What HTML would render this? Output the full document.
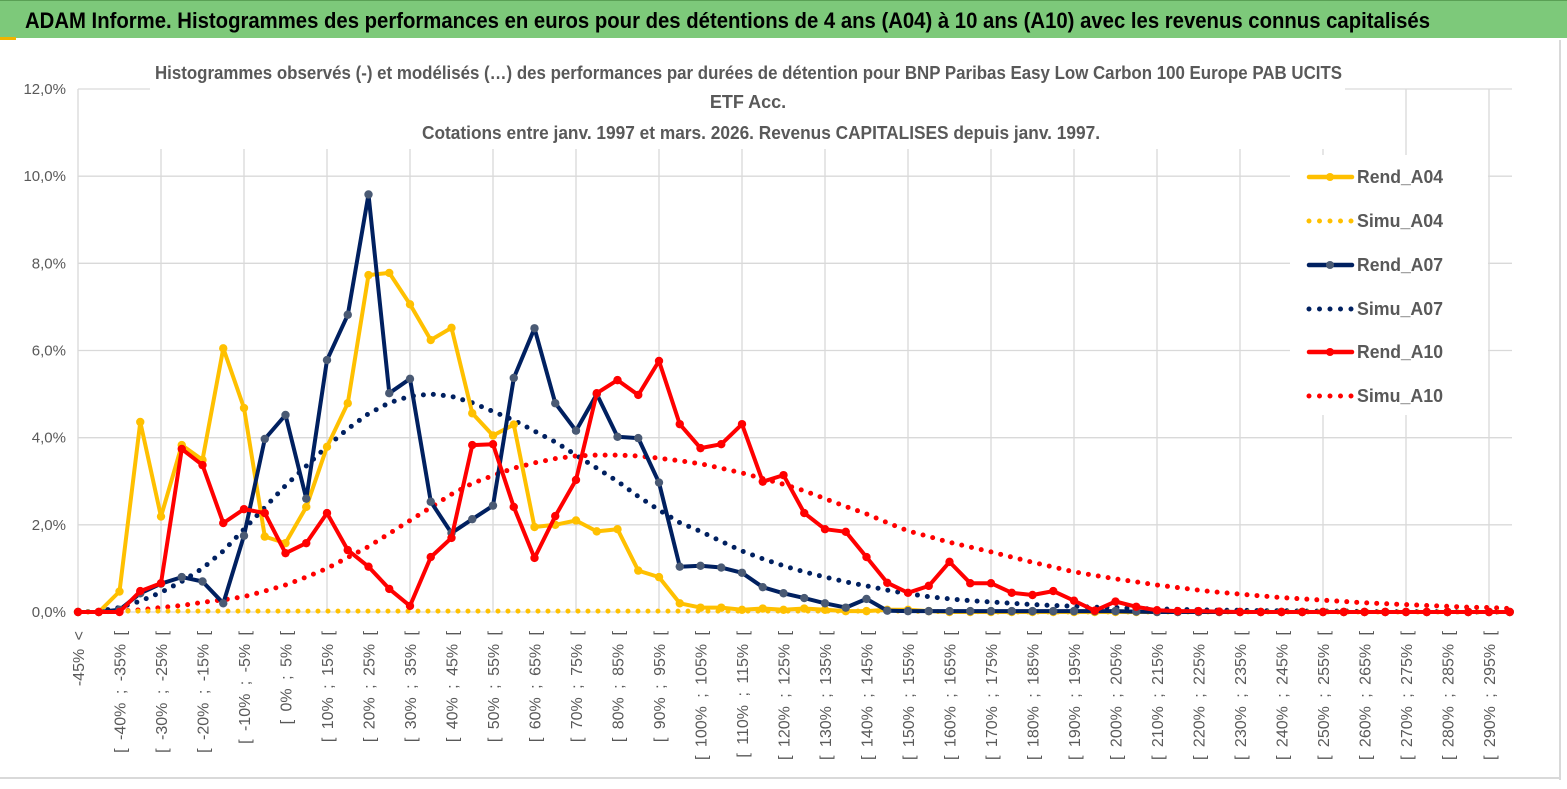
<!DOCTYPE html>
<html><head><meta charset="utf-8"><style>
html,body{margin:0;padding:0;background:#fff;}
svg{display:block;font-family:"Liberation Sans",sans-serif;}
</style></head><body>
<svg id="chart" width="1567" height="789" viewBox="0 0 1567 789" xmlns="http://www.w3.org/2000/svg">
<rect x="0" y="0" width="1567" height="789" fill="#fff"/>
<rect x="0" y="0" width="1567" height="38" fill="#7dc97a"/>
<rect x="0" y="0" width="1567" height="1" fill="#5aa055"/>
<rect x="0" y="37" width="16" height="3" fill="#f0b400"/>
<text x="25" y="28" font-size="22" font-weight="bold" fill="#000" textLength="1405" lengthAdjust="spacingAndGlyphs">ADAM Informe. Histogrammes des performances en euros pour des détentions de 4 ans (A04) à 10 ans (A10) avec les revenus connus capitalisés</text>
<rect x="1559" y="40" width="2" height="740" fill="#d9d9d9"/>
<rect x="0" y="777" width="1561" height="2" fill="#d9d9d9"/>
<g id="grid"></g>
<g id="yaxis"></g>
<g id="xaxis"></g>
<rect x="150" y="55" width="1195" height="94" fill="#fff"/>
<g font-weight="bold" fill="#595959" font-size="18">
<text x="155" y="79" textLength="1187" lengthAdjust="spacingAndGlyphs">Histogrammes observés (-) et modélisés (…) des performances par durées de détention pour BNP Paribas Easy Low Carbon 100 Europe PAB UCITS</text>
<text x="748" y="108" text-anchor="middle">ETF Acc.</text>
<text x="422" y="139" textLength="678" lengthAdjust="spacingAndGlyphs">Cotations entre janv. 1997 et mars. 2026. Revenus CAPITALISES depuis janv. 1997.</text>
</g>
<g id="series"></g>
<rect x="1290" y="155" width="198" height="260" fill="#fff"/>
<g id="legend"></g>
</svg>
<script>
const rendA04 = [0,0,0.47,4.36,2.19,3.83,3.49,6.05,4.68,1.73,1.58,2.41,3.79,4.79,7.73,7.78,7.06,6.24,6.52,4.56,4.05,4.3,1.95,2.0,2.1,1.85,1.9,0.95,0.8,0.2,0.1,0.1,0.05,0.08,0.05,0.08,0.05,0.02,0.02,0.05,0.05,0.02,0,0,0,0,0,0,0,0,0,0,0,0,0,0,0,0,0,0,0,0,0,0,0,0,0,0,0,0];
const simuA04 = [0,0,0.02,0.02,0.02,0.02,0.02,0.02,0.02,0.02,0.02,0.02,0.02,0.02,0.02,0.02,0.02,0.02,0.02,0.02,0.02,0.02,0.02,0.02,0.02,0.02,0.02,0.02,0.02,0.02,0.02,0.02,0.02,0.02,0.02,0.02,0.02,0.02,0.02,0.02,0.02,0.01,0.01,0.01,0,0,0,0,0,0,0,0,0,0,0,0,0,0,0,0,0,0,0,0,0,0,0,0,0,0];
const rendA07 = [0,0,0.05,0.43,0.65,0.8,0.7,0.2,1.75,3.97,4.52,2.6,5.78,6.82,9.58,5.02,5.35,2.53,1.81,2.13,2.44,5.37,6.51,4.79,4.16,5.0,4.02,3.99,2.97,1.04,1.06,1.02,0.9,0.57,0.43,0.32,0.2,0.1,0.3,0.03,0.02,0.02,0.02,0.02,0.02,0.02,0.02,0.02,0.02,0.02,0.02,0.01,0,0,0,0,0,0,0,0,0,0,0,0,0,0,0,0,0,0];
const simuA07 = [0,0.02,0.1,0.25,0.45,0.7,1.0,1.4,1.9,2.4,2.9,3.35,3.8,4.2,4.55,4.8,4.95,5.0,4.95,4.8,4.6,4.4,4.15,3.9,3.6,3.3,3.0,2.65,2.34,2.05,1.85,1.62,1.4,1.22,1.06,0.92,0.8,0.69,0.6,0.5,0.42,0.35,0.3,0.26,0.23,0.2,0.17,0.15,0.13,0.11,0.1,0.08,0.07,0.06,0.05,0.04,0.04,0.03,0.03,0.02,0.02,0.02,0.01,0.01,0.01,0.01,0.01,0,0,0];
const rendA10 = [0,0,0,0.48,0.66,3.74,3.37,2.04,2.36,2.27,1.35,1.58,2.27,1.42,1.04,0.53,0.14,1.26,1.7,3.83,3.85,2.41,1.24,2.2,3.03,5.02,5.32,4.98,5.76,4.31,3.76,3.85,4.31,2.99,3.14,2.27,1.9,1.84,1.26,0.67,0.44,0.6,1.15,0.66,0.66,0.44,0.39,0.48,0.26,0.03,0.24,0.12,0.04,0.02,0.02,0.01,0,0,0,0,0,0,0,0,0,0,0,0,0,0];
const simuA10 = [0,0,0.02,0.05,0.1,0.15,0.22,0.28,0.35,0.48,0.62,0.8,1.0,1.25,1.5,1.8,2.1,2.4,2.7,2.95,3.13,3.3,3.42,3.52,3.58,3.6,3.6,3.58,3.53,3.47,3.4,3.3,3.19,3.06,2.93,2.78,2.6,2.42,2.25,2.05,1.86,1.73,1.6,1.49,1.38,1.26,1.14,1.03,0.92,0.84,0.76,0.69,0.62,0.56,0.5,0.45,0.41,0.37,0.33,0.3,0.27,0.24,0.21,0.19,0.17,0.15,0.13,0.11,0.1,0.08];
const yTicks = [0,2,4,6,8,10,12];
const categories = ["-45% <"];
for (let k = 1; k < 70; k++) { const lo = -50 + 5 * k; categories.push("[ " + lo + "% ; " + (lo + 5) + "% ["); }

const NS = "http://www.w3.org/2000/svg";
const X0 = 78, DX = 20.75, Y0 = 612, YTOP = 89;
const xs = i => X0 + i * DX;
const ys = v => Y0 - (v / 12) * (Y0 - YTOP);
function mk(tag, attrs, parent) { const e = document.createElementNS(NS, tag); for (const k in attrs) e.setAttribute(k, attrs[k]); parent.appendChild(e); return e; }

const grid = document.getElementById('grid');
yTicks.forEach(t => {
  const l = mk('line', {x1: X0, x2: 1512, y1: ys(t), y2: ys(t), stroke: '#d9d9d9', 'stroke-width': 1.3}, grid);
  
  
});
for (let i = 0; i < categories.length; i += 4) {
  const l = mk('line', {x1: xs(i), x2: xs(i), y1: YTOP, y2: Y0, stroke: '#d9d9d9', 'stroke-width': 1.3}, grid);
  
  
}
const yaxis = document.getElementById('yaxis');
yTicks.forEach(t => {
  const tx = mk('text', {x: 66, y: ys(t) + 5, 'text-anchor': 'end', 'font-size': 15, fill: '#595959'}, yaxis);
  tx.textContent = t.toFixed(1).replace('.', ',') + '%';
  
  
});
const xaxis = document.getElementById('xaxis');
for (let i = 0; i < categories.length; i += 2) {
  const x = xs(i) + 6, y = 631;
  const tx = mk('text', {x: x, y: y, 'text-anchor': 'end', 'font-size': 16, 'word-spacing': 4, fill: '#595959', transform: 'rotate(-90 ' + x + ' ' + y + ')'}, xaxis);
  tx.textContent = categories[i];
  
  
}

const series = document.getElementById('series');
function pts(arr) { return arr.map((v, i) => xs(i).toFixed(1) + ',' + ys(v).toFixed(1)).join(' '); }
function dotted(arr, color, name) {
  const p = mk('polyline', {points: pts(arr), fill: 'none', stroke: color, 'stroke-width': 5, 'stroke-linecap': 'round', 'stroke-dasharray': '0 10'}, series);
  
  
}
function solid(arr, color, mcolor, name) {
  const g = mk('g', {}, series);
  
  
  mk('polyline', {points: pts(arr), fill: 'none', stroke: color, 'stroke-width': 4, 'stroke-linejoin': 'round'}, g);
  arr.forEach((v, i) => {
    const c = mk('circle', {cx: xs(i), cy: ys(v), r: 4.2, fill: mcolor}, g);
    
    
  });
}
dotted(simuA10, '#ff0000', 'simu-a10-line');
dotted(simuA07, '#002060', 'simu-a07-line');
dotted(simuA04, '#ffc000', 'simu-a04-line');
solid(rendA04, '#ffc000', '#ffc000', 'rend-a04-line');
solid(rendA07, '#002060', '#4a5a74', 'rend-a07-line');
solid(rendA10, '#ff0000', '#ff0000', 'rend-a10-line');

const legend = document.getElementById('legend');
const legendItems = [
  ['Rend_A04', '#ffc000', '#ffc000', false, 177],
  ['Simu_A04', '#ffc000', null, true, 221],
  ['Rend_A07', '#002060', '#4a5a74', false, 265],
  ['Simu_A07', '#002060', null, true, 309],
  ['Rend_A10', '#ff0000', '#ff0000', false, 352],
  ['Simu_A10', '#ff0000', null, true, 396]
];
legendItems.forEach(it => {
  const g = mk('g', {}, legend);
  
  
  const y = it[4];
  if (it[3]) {
    mk('line', {x1: 1309, x2: 1352, y1: y, y2: y, stroke: it[1], 'stroke-width': 5, 'stroke-linecap': 'round', 'stroke-dasharray': '0 10.5'}, g);
  } else {
    mk('line', {x1: 1309, x2: 1352, y1: y, y2: y, stroke: it[1], 'stroke-width': 4.5, 'stroke-linecap': 'round'}, g);
    mk('circle', {cx: 1330, cy: y, r: 4, fill: it[2]}, g);
  }
  const t = mk('text', {x: 1357, y: y + 6, 'font-size': 18, 'font-weight': 'bold', fill: '#595959', textLength: 86, lengthAdjust: 'spacingAndGlyphs'}, g);
  t.textContent = it[0];
});
</script>
</body></html>
